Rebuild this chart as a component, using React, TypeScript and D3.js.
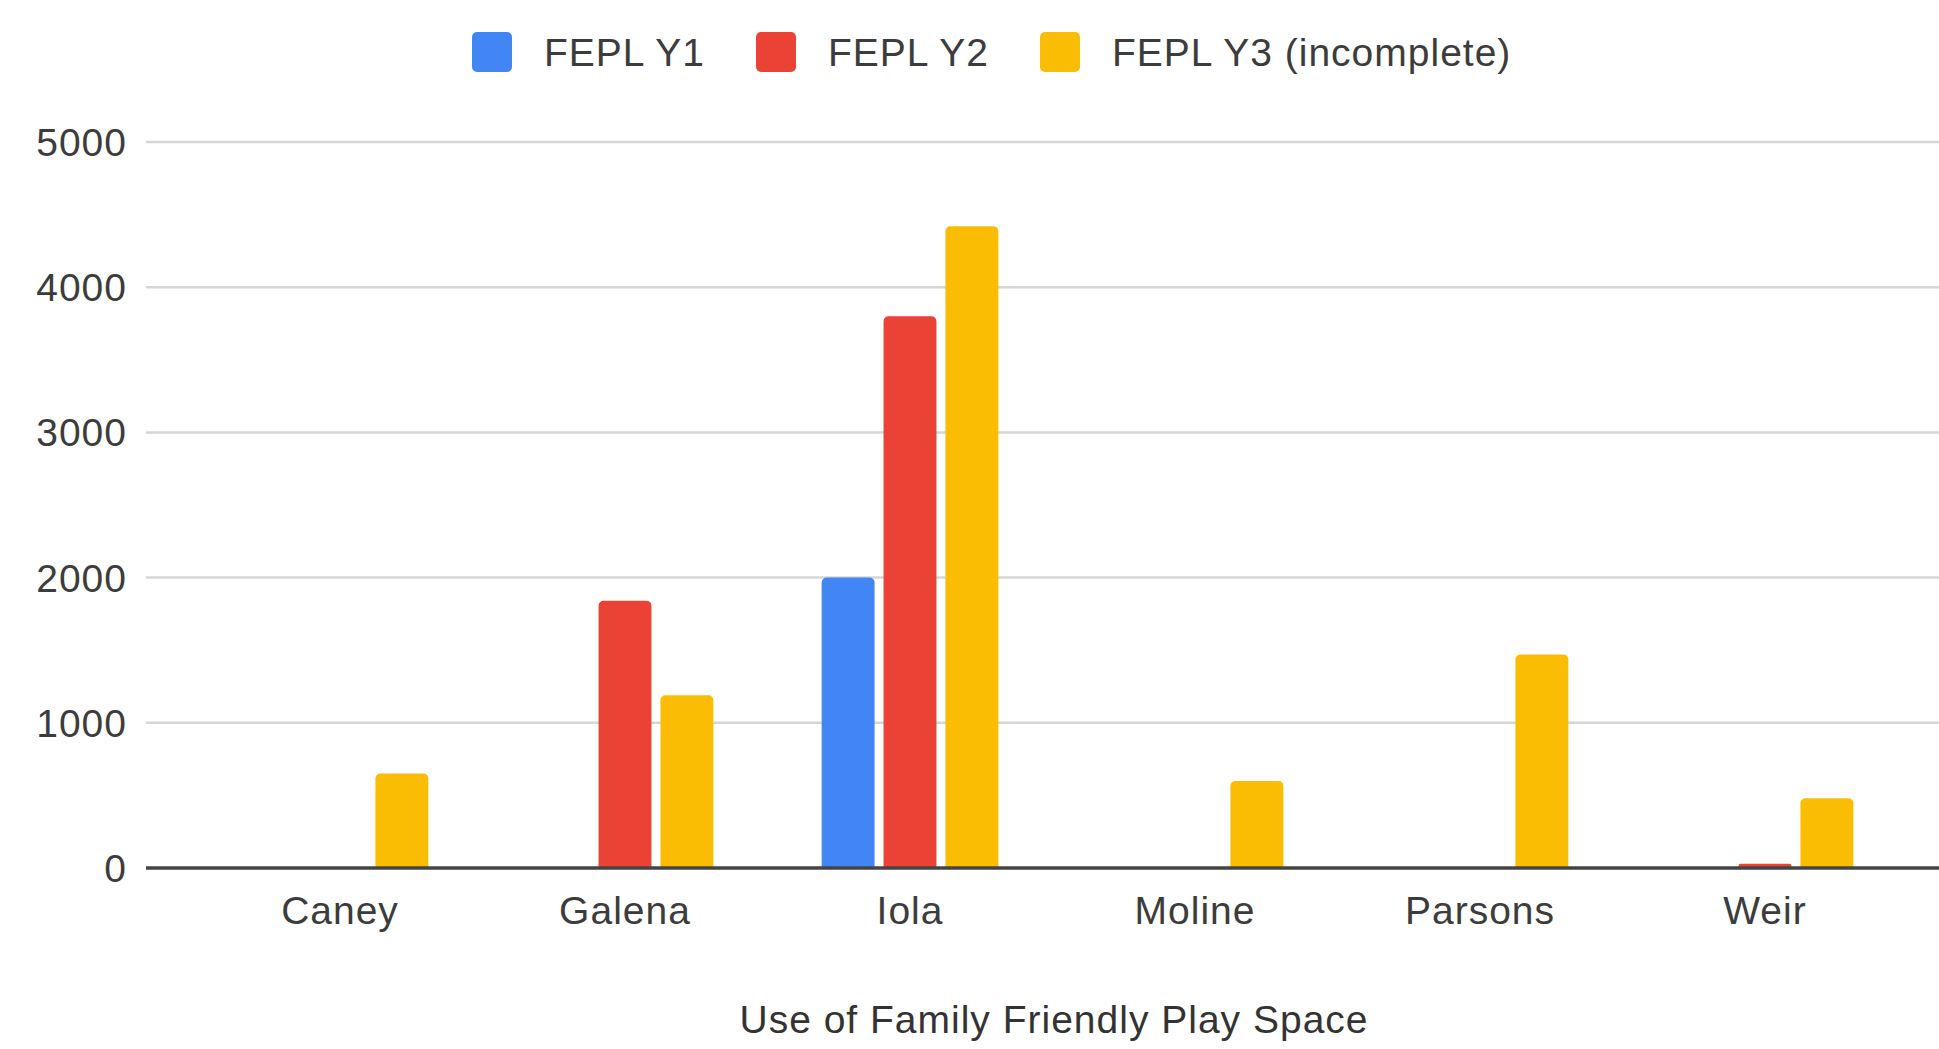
import { useEffect, useRef } from 'react';
import * as d3 from 'd3';

const categories = ['Caney', 'Galena', 'Iola', 'Moline', 'Parsons', 'Weir'];
const seriesNames = ['FEPL Y1', 'FEPL Y2', 'FEPL Y3 (incomplete)'];
const y1Values = [0, 0, 2000, 0, 0, 0];
const y2Values = [0, 1840, 3800, 0, 0, 30];
const y3Values = [650, 1190, 4420, 600, 1470, 480];
const yTicks = [0, 1000, 2000, 3000, 4000, 5000];
const colors = ['#4285F4', '#EA4335', '#FBBC04'];
const xTitle = 'Use of Family Friendly Play Space';

// bar with rounded top corners only
function barPath(x0: number, y0: number, w: number, h: number, r: number) {
  const rr = Math.min(r, h / 2, w / 2);
  const p = d3.path();
  p.moveTo(x0, y0 + h);
  p.lineTo(x0, y0 + rr);
  p.arcTo(x0, y0, x0 + rr, y0, rr);
  p.lineTo(x0 + w - rr, y0);
  p.arcTo(x0 + w, y0, x0 + w, y0 + rr, rr);
  p.lineTo(x0 + w, y0 + h);
  p.closePath();
  return p.toString();
}

export default function App() {
  const gRef = useRef<SVGGElement>(null);

  const width = 1939,
    height = 1049,
    plotLeft = 146,
    plotTop = 142,
    plotBottom = 868;

  const font = '"Liberation Sans", Arial, sans-serif';
  const fs = 39;
  const ls = 1;

  useEffect(() => {
    const g = d3.select(gRef.current);
    g.selectAll('*').remove();

    const x = d3
      .scaleBand()
      .domain(categories)
      .range([197.5, 1907.5])
      .paddingInner(0.38)
      .paddingOuter(0.19);

    const xs = d3
      .scaleBand()
      .domain(seriesNames)
      .range([0, x.bandwidth()])
      .paddingInner(0.145)
      .paddingOuter(0);

    const y = d3.scaleLinear().domain([0, 5000]).range([plotBottom, plotTop]);

    // gridlines
    g.append('g')
      .selectAll('line')
      .data(yTicks.filter((t) => t > 0))
      .join('line')
      .attr('x1', plotLeft)
      .attr('x2', width)
      .attr('y1', (d) => y(d))
      .attr('y2', (d) => y(d))
      .attr('stroke', '#d6d6d6')
      .attr('stroke-width', 2.5);

    // y labels
    g.append('g')
      .selectAll('text')
      .data(yTicks)
      .join('text')
      .attr('x', 127)
      .attr('y', (d) => y(d))
      .attr('dy', '0.36em')
      .attr('text-anchor', 'end')
      .attr('font-family', font)
      .attr('font-size', fs)
      .attr('letter-spacing', ls)
      .attr('fill', '#3c3c3c')
      .text((d) => d);

    const rows = categories.flatMap((c, i) =>
      [y1Values[i], y2Values[i], y3Values[i]].map((v, s) => ({
        cat: c,
        s,
        v,
      }))
    );

    g.append('g')
      .selectAll('path')
      .data(rows.filter((d) => d.v > 0))
      .join('path')
      .attr('d', (d) =>
        barPath(
          (x(d.cat) ?? 0) + (xs(seriesNames[d.s]) ?? 0),
          y(d.v),
          xs.bandwidth(),
          y(0) - y(d.v),
          5
        )
      )
      .attr('fill', (d) => colors[d.s]);

    // baseline
    g.append('line')
      .attr('x1', plotLeft)
      .attr('x2', width)
      .attr('y1', y(0))
      .attr('y2', y(0))
      .attr('stroke', '#444')
      .attr('stroke-width', 3.5);

    // x labels
    g.append('g')
      .selectAll('text')
      .data(categories)
      .join('text')
      .attr('x', (d) => (x(d) ?? 0) + x.bandwidth() / 2)
      .attr('y', 910)
      .attr('dy', '0.36em')
      .attr('text-anchor', 'middle')
      .attr('font-family', font)
      .attr('font-size', fs)
      .attr('letter-spacing', ls)
      .attr('fill', '#3c3c3c')
      .text((d) => d);

    g.append('text')
      .attr('x', 1054)
      .attr('y', 1019)
      .attr('dy', '0.36em')
      .attr('text-anchor', 'middle')
      .attr('font-family', font)
      .attr('font-size', fs)
      .attr('letter-spacing', ls)
      .attr('fill', '#333')
      .text(xTitle);

    // legend
    const legendX = [472, 756, 1040];
    const legend = g
      .append('g')
      .selectAll('g')
      .data(seriesNames)
      .join('g')
      .attr('transform', (_, i) => `translate(${legendX[i]},52)`);
    legend
      .append('rect')
      .attr('x', 0)
      .attr('y', -20)
      .attr('width', 40)
      .attr('height', 40)
      .attr('rx', 5)
      .attr('fill', (_, i) => colors[i]);
    legend
      .append('text')
      .attr('x', 72)
      .attr('y', 0)
      .attr('dy', '0.36em')
      .attr('font-family', font)
      .attr('font-size', fs)
      .attr('letter-spacing', ls)
      .attr('fill', '#3c3c3c')
      .text((d) => d);
  }, []);

  return (
    <svg
      width={width}
      height={height}
      style={{ position: 'absolute', left: 0, top: 0, background: '#fff' }}
    >
      <g ref={gRef} />
    </svg>
  );
}
